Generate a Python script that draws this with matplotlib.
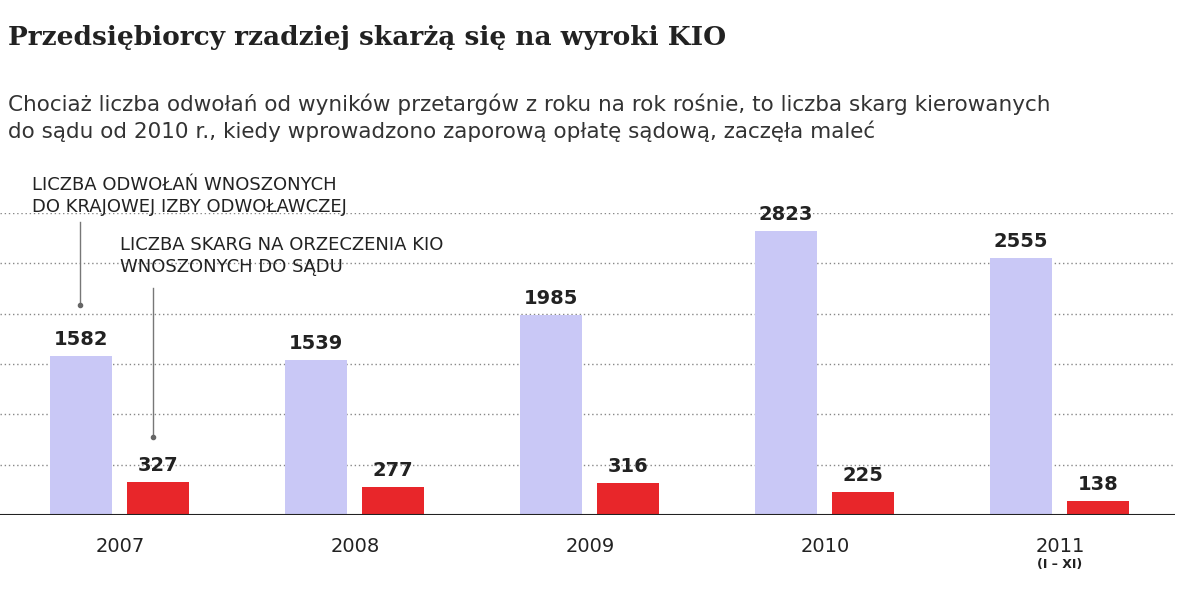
import matplotlib
matplotlib.use("Agg")
import matplotlib.pyplot as plt

years = ["2007", "2008", "2009", "2010", "2011"]
appeals = [1582, 1539, 1985, 2823, 2555]
complaints = [327, 277, 316, 225, 138]

W, H = 1200, 589
fig = plt.figure(figsize=(12, 5.89), dpi=100)
def fx(px): return px / W
def fy(py): return 1 - py / H

ax = fig.add_axes([0, fy(515), fx(1175), (515 - 213) / H])
ax.set_xlim(-0.511, 4.489)
ax.set_ylim(0, 3000)
x = list(range(len(years)))
bw = 62 / 235
xa = [i - 0.166 for i in x]
xc = [i + 0.162 for i in x]
ax.bar(xa, appeals, width=bw, color="#c9c8f6", zorder=2)
ax.bar(xc, complaints, width=bw, color="#e8262a", zorder=2)
for xi, v in zip(xa, appeals):
    ax.text(xi, v + 70, str(v), ha="center", va="bottom", fontsize=14, fontweight="bold", color="#222")
for xi, v in zip(xc, complaints):
    ax.text(xi, v + 70, str(v), ha="center", va="bottom", fontsize=14, fontweight="bold", color="#222")
for g in range(500, 3001, 500):
    ax.axhline(g, color="#888", linestyle=(0, (1, 2)), linewidth=1, zorder=1)
ax.axhline(0, color="#222", linewidth=1.5, zorder=3)
for s in ax.spines.values():
    s.set_visible(False)
ax.set_yticks([])
ax.set_xticks(x)
ax.set_xticklabels(years, fontsize=14, color="#222")
ax.tick_params(axis="x", length=0, pad=16)
ax.text(4, -430, "(I – XI)", ha="center", va="top", fontsize=9, fontweight="bold", color="#222")

fig.text(fx(8), fy(38), "Przedsiębiorcy rzadziej skarżą się na wyroki KIO", fontsize=19,
         fontweight="bold", family="DejaVu Serif", color="#222", va="center")
fig.text(fx(8), fy(118), "Chociaż liczba odwołań od wyników przetargów z roku na rok rośnie, to liczba skarg kierowanych\n"
         "do sądu od 2010 r., kiedy wprowadzono zaporową opłatę sądową, zaczęła maleć",
         fontsize=15.5, color="#333", va="center", linespacing=1.3)
fig.text(fx(32), fy(196), "LICZBA ODWOŁAŃ WNOSZONYCH\nDO KRAJOWEJ IZBY ODWOŁAWCZEJ", fontsize=13,
         color="#222", va="center", linespacing=1.25)
fig.text(fx(120), fy(256), "LICZBA SKARG NA ORZECZENIA KIO\nWNOSZONYCH DO SĄDU", fontsize=13,
         color="#222", va="center", linespacing=1.25)
for (px, y0, y1) in [(80, 222, 305), (153, 288, 437)]:
    fig.add_artist(plt.Line2D([fx(px), fx(px)], [fy(y0), fy(y1)], color="#777", linewidth=1))
    fig.add_artist(plt.Line2D([fx(px)], [fy(y1)], marker="o", markersize=3, color="#666"))
fig.savefig("out.png", dpi=100, facecolor="white")
